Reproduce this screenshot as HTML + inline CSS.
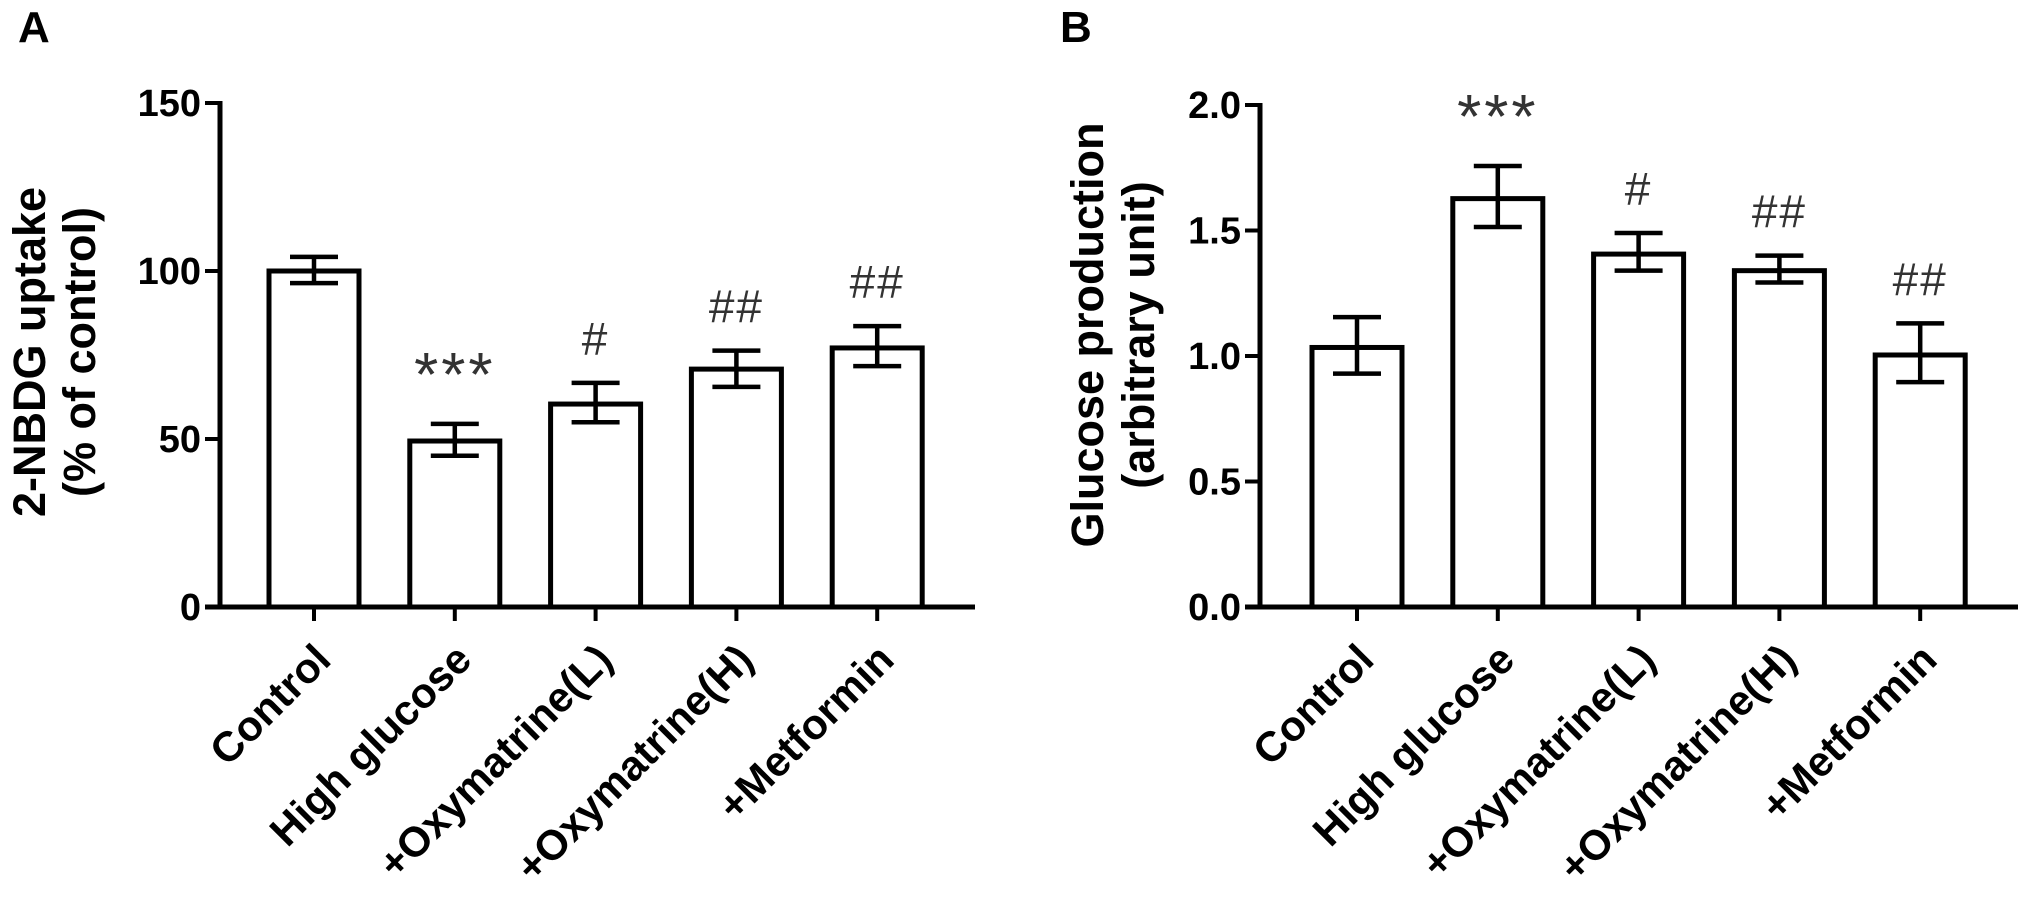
<!DOCTYPE html>
<html><head><meta charset="utf-8"><style>
html,body{margin:0;padding:0;background:#fff;}
svg{display:block;font-family:"Liberation Sans",Arial,sans-serif;}
</style></head><body>
<svg id="fig" width="2031" height="905" viewBox="0 0 2031 905" xmlns="http://www.w3.org/2000/svg">
<text x="18" y="42" font-size="44" font-weight="bold">A</text>
<text x="1060" y="42" font-size="44" font-weight="bold">B</text>
<g font-size="45" font-weight="bold" text-anchor="middle">
<text transform="translate(45,352) rotate(-90)">2-NBDG uptake</text>
<text transform="translate(95,352) rotate(-90)">(% of control)</text>
</g>
<g font-size="45" font-weight="bold" text-anchor="middle">
<text transform="translate(1103,335) rotate(-90)">Glucose production</text>
<text transform="translate(1154,335) rotate(-90)">(arbitrary unit)</text>
</g>
</svg>
<script>
const categories = ["Control","High glucose","+Oxymatrine(L)","+Oxymatrine(H)","+Metformin"];
const uptakeMeans = [100, 49.4, 60.4, 70.8, 77.1];
const uptakeErrHigh = [104.2, 54.5, 66.7, 76.3, 83.6];
const uptakeErrLow = [96.4, 45, 55, 65.5, 71.7];
const uptakeMarks = ["", "***", "#", "##", "##"];
const uptakeTicks = [0, 50, 100, 150];
const uptakeTickLabels = ["0", "50", "100", "150"];
const glucoseMeans = [1.034, 1.627, 1.406, 1.34, 1.004];
const glucoseErrHigh = [1.155, 1.757, 1.49, 1.40, 1.13];
const glucoseErrLow = [0.93, 1.514, 1.34, 1.293, 0.896];
const glucoseMarks = ["", "***", "#", "##", "##"];
const glucoseTicks = [0, 0.5, 1.0, 1.5, 2.0];
const glucoseTickLabels = ["0.0", "0.5", "1.0", "1.5", "2.0"];

const NS = "http://www.w3.org/2000/svg";
const svg = document.getElementById("fig");
function mk(tag, attrs, parent){
  const e = document.createElementNS(NS, tag);
  for (const k in attrs) e.setAttribute(k, attrs[k]);
  (parent||svg).appendChild(e);
  return e;
}
function panel(p){
  const g = mk("g", {});
  
  
  const y = v => p.y0 - (v - 0) / p.yMax * (p.y0 - p.yTop);
  const x = i => p.c0 + i * p.step;
  const ya = mk("line", {x1:p.x0, y1:y(p.yMax)-2, x2:p.x0, y2:p.y0+2.5, stroke:"#000","stroke-width":5}, g);
  
  
  p.ticks.forEach((t,i)=>{
    const tl = mk("line", {x1:p.x0-15, y1:y(t), x2:p.x0, y2:y(t), stroke:"#000","stroke-width":4}, g);
    
    
    const tt = mk("text", {x:p.x0-19, y:y(t)+13, "text-anchor":"end","font-size":38,"font-weight":"bold"}, g);
    tt.textContent = p.tickLabels[i];
    
    
  });
  p.means.forEach((m,i)=>{
    const cx = x(i), w = 90;
    const r = mk("rect", {x:cx-w/2, y:y(m), width:w, height:p.y0-y(m), fill:"#fff", stroke:"#000","stroke-width":5}, g);
    
    
    const eg = mk("g", {stroke:"#000","stroke-width":4.5}, g);
    
    
    mk("line", {x1:cx, y1:y(p.hi[i]), x2:cx, y2:y(p.lo[i])}, eg);
    mk("line", {x1:cx-24, y1:y(p.hi[i]), x2:cx+24, y2:y(p.hi[i])}, eg);
    mk("line", {x1:cx-24, y1:y(p.lo[i]), x2:cx+24, y2:y(p.lo[i])}, eg);
    if (p.marks[i]) {
      const isStar = p.marks[i].indexOf("*") >= 0;
      const a = mk("text", {x:cx, y:y(p.hi[i]) - 28, "text-anchor":"middle", fill:"#333",
        "font-size": isStar ? 62 : 46, "letter-spacing": isStar ? 3 : 2}, g);
      a.textContent = p.marks[i];
      
      
    }
    const xt = mk("line", {x1:cx, y1:p.y0, x2:cx, y2:p.y0+14, stroke:"#000","stroke-width":4}, g);
    
    
    const lx = cx + 19, ly = 662;
    const lb = mk("text", {x:lx, y:ly, transform:`rotate(-45 ${lx} ${ly})`, "text-anchor":"end","font-size":42,"font-weight":"bold"}, g);
    lb.textContent = categories[i];
    
    
  });
  const xa = mk("line", {x1:p.x0-15, y1:p.y0, x2:p.xEnd, y2:p.y0, stroke:"#000","stroke-width":5}, g);
  
  
}
panel({name:"panel-a-uptake-chart", x0:220, y0:607, yTop:103, yMax:150, c0:314, step:140.8, xEnd:975,
  means:uptakeMeans, hi:uptakeErrHigh, lo:uptakeErrLow, marks:uptakeMarks, ticks:uptakeTicks, tickLabels:uptakeTickLabels});
panel({name:"panel-b-glucose-chart", x0:1260, y0:607, yTop:105, yMax:2.0, c0:1357, step:140.8, xEnd:2018,
  means:glucoseMeans, hi:glucoseErrHigh, lo:glucoseErrLow, marks:glucoseMarks, ticks:glucoseTicks, tickLabels:glucoseTickLabels});
</script>
</body></html>
